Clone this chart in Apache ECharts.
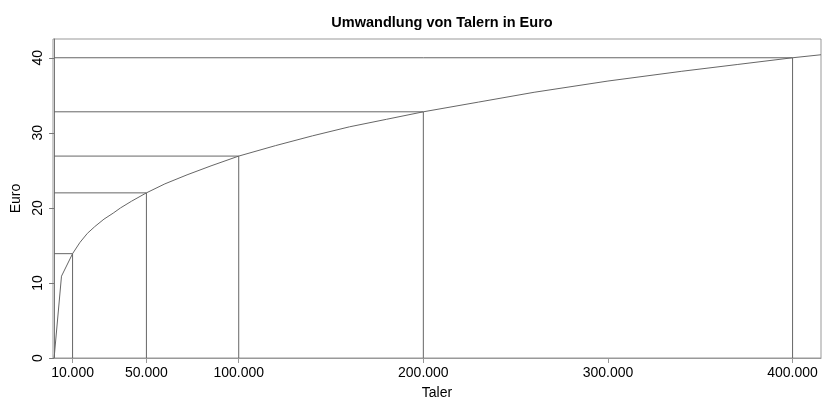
<!DOCTYPE html>
<html>
<head>
<meta charset="utf-8">
<script src="https://cdn.jsdelivr.net/npm/echarts@6/dist/echarts.min.js"></script>
<style>
  html, body { margin: 0; padding: 0; background: #fff; }
  #chart { width: 822px; height: 405px; }
</style>
</head>
<body>
<div id="chart"></div>
<script>
// Kurve Taler -> Euro
const talerValues = [0, 4000, 10000, 14000, 18000, 22000, 27000, 32000, 36000, 42000, 50000, 60000, 72000, 85000, 100000,
    120000, 140000, 160000, 180000, 200000, 230000, 260000, 300000, 340000, 370000, 400000, 415400];
const euroValues = [0, 10.9, 13.9, 15.4, 16.6, 17.5, 18.5, 19.3, 20.0, 20.9, 22.0, 23.2, 24.4, 25.6, 26.9,
    28.3, 29.6, 30.8, 31.8, 32.8, 34.1, 35.4, 36.9, 38.2, 39.1, 40.0, 40.4];

// Hilfslinien
const guideTaler = [10000, 50000, 100000, 200000, 400000];
const guideEuro = [13.9, 22.0, 26.9, 32.8, 40.0];

const xTicks = [10000, 50000, 100000, 200000, 300000, 400000];
const yTicks = [0, 10, 20, 30, 40];

const fmt = (v) => String(v).replace(/\B(?=(\d{3})+(?!\d))/g, '.');

let curve = talerValues.map((x, i) => [x, euroValues[i]]);
let guides = [];
guideTaler.forEach((x, i) => {
    guides.push([0, guideEuro[i]], [x, guideEuro[i]], [x, 0], null);
});

const font = 'Liberation Sans, Arial, sans-serif';
let myChart = echarts.init(document.getElementById('chart'));
let option = {
    animation: false,
    title: {
        text: 'Umwandlung von Talern in Euro',
        left: 437,
        textAlign: 'center',
        top: 10,
        textStyle: { fontFamily: font, fontSize: 14.5, fontWeight: 'bold', color: '#000' }
    },
    grid: {
        left: 53, right: 1, top: 39, bottom: 42,
        show: true, borderColor: '#999', borderWidth: 1
    },
    xAxis: {
        type: 'value',
        min: -600,
        max: 415400,
        name: 'Taler',
        nameLocation: 'middle',
        nameGap: 28,
        nameTextStyle: { fontFamily: font, fontSize: 14, color: '#000' },
        axisLine: { show: true, onZero: false, lineStyle: { color: '#999' } },
        axisTick: { show: true, length: 5, customValues: xTicks, lineStyle: { color: '#999' } },
        axisLabel: { customValues: xTicks, formatter: fmt, fontFamily: font, fontSize: 14, color: '#000', margin: 8 },
        splitLine: { show: false }
    },
    yAxis: {
        type: 'value',
        min: 0,
        max: 42.5,
        name: 'Euro',
        nameLocation: 'middle',
        nameGap: 28,
        nameRotate: 90,
        nameTextStyle: { fontFamily: font, fontSize: 14, color: '#000' },
        axisLine: { show: true, lineStyle: { color: '#777' } },
        axisTick: { show: true, length: 5, customValues: yTicks, lineStyle: { color: '#777' } },
        axisLabel: { customValues: yTicks, rotate: 90, fontFamily: font, fontSize: 14, color: '#000', margin: 8 },
        splitLine: { show: false }
    },
    series: [
        {
            type: 'line',
            data: guides,
            symbol: 'none',
            connectNulls: false,
            lineStyle: { color: '#666', width: 1 }
        },
        {
            type: 'line',
            data: curve,
            symbol: 'none',
            lineStyle: { color: '#666', width: 1 }
        }
    ]
};
option && myChart.setOption(option);
</script>
</body>
</html>
